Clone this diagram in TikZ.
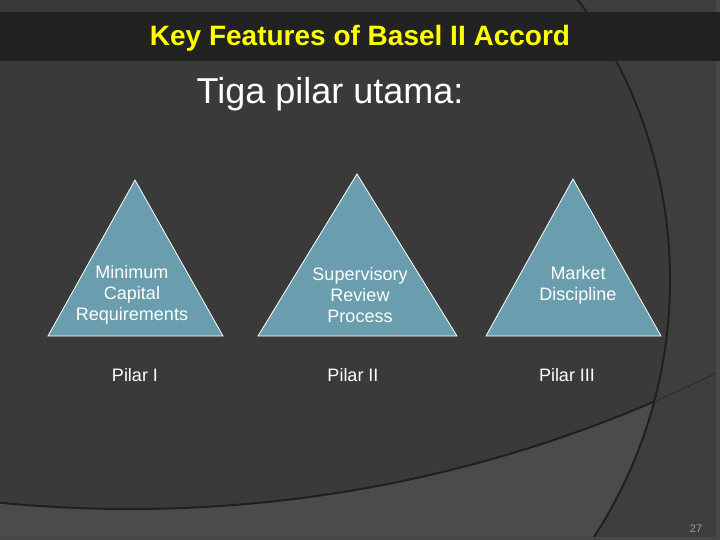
\documentclass[tikz,border=0pt]{standalone}
\usepackage{fontspec}
\setmainfont{Liberation Sans}
\usepackage{xcolor}
\usetikzlibrary{positioning}
\definecolor{slidedark}{RGB}{58, 58, 58}
\definecolor{slideouter}{RGB}{62, 62, 62}
\definecolor{slidelight}{RGB}{75, 75, 75}
\definecolor{slideedge}{RGB}{72, 72, 72}
\definecolor{titlebar}{RGB}{34, 34, 34}
\definecolor{arcline}{RGB}{32, 32, 32}
\definecolor{pillarblue}{RGB}{106, 158, 174}
\definecolor{titleyellow}{RGB}{255, 255, 0}

\begin{document}
\begin{tikzpicture}[x=1pt, y=-1pt,
    pillar/.style={fill=pillarblue, draw=white, line width=0.8pt},
    pillartext/.style={text=white, align=center, font=\fontsize{18}{21}\selectfont},
    pillarlabel/.style={text=white, anchor=base, font=\fontsize{18}{21}\selectfont}]
    \useasboundingbox (0,0) rectangle (720,540);
    % Slide background with the template arcs
    \fill[slideouter] (0,0) rectangle (720,540);
    \begin{scope}
        \clip (198,280) circle[radius=472pt];
        \fill[slidelight] (0,0) rectangle (720,540);
        \fill[slidedark] (130,-819) circle[radius=1328pt];
        \draw[arcline, line width=2pt] (130,-819) circle[radius=1328pt];
    \end{scope}
    \draw[arcline, opacity=0.5, line width=1.2pt] (130,-819) circle[radius=1328pt];
    \draw[arcline, line width=2pt] (198,280) circle[radius=472pt];
    \fill[slideedge] (716,0) rectangle (720,540);
    \fill[slideedge] (0,537) rectangle (720,540);
    % Title bar
    \fill[titlebar] (0,12) rectangle (720,61);
    \node[anchor=base, text=titleyellow, font=\fontsize{28}{32}\selectfont\bfseries]
        (title) at (360,46) {Key Features of Basel II Accord};
    \node[anchor=base, text=white, font=\fontsize{36}{42}\selectfont]
        (subtitle) at (330,104) {Tiga pilar utama:};
    % The three pillars
    \foreach \n/\apex/\top/\left/\right/\tx/\ty/\txt/\lx/\lab in {
        1/135/180/48/223/132/295/{Minimum\\Capital\\Requirements}/135/{Pilar I},
        2/357/174/258/457/360/295/{Supervisory\\Review\\Process}/353/{Pilar II},
        3/573/179/486/661/578/285/{Market\\Discipline}/567/{Pilar III}} {
        \draw[pillar] (\apex,\top) -- (\right,336) -- (\left,336) -- cycle;
        \node[pillartext] (pillar\n) at (\tx,\ty) {\txt};
        \node[pillarlabel] (label\n) at (\lx,381) {\lab};
    }
    \node[anchor=base, text=white!60!black, font=\fontsize{11}{13}\selectfont]
        (pagenum) at (696,532) {27};
\end{tikzpicture}
\end{document}
